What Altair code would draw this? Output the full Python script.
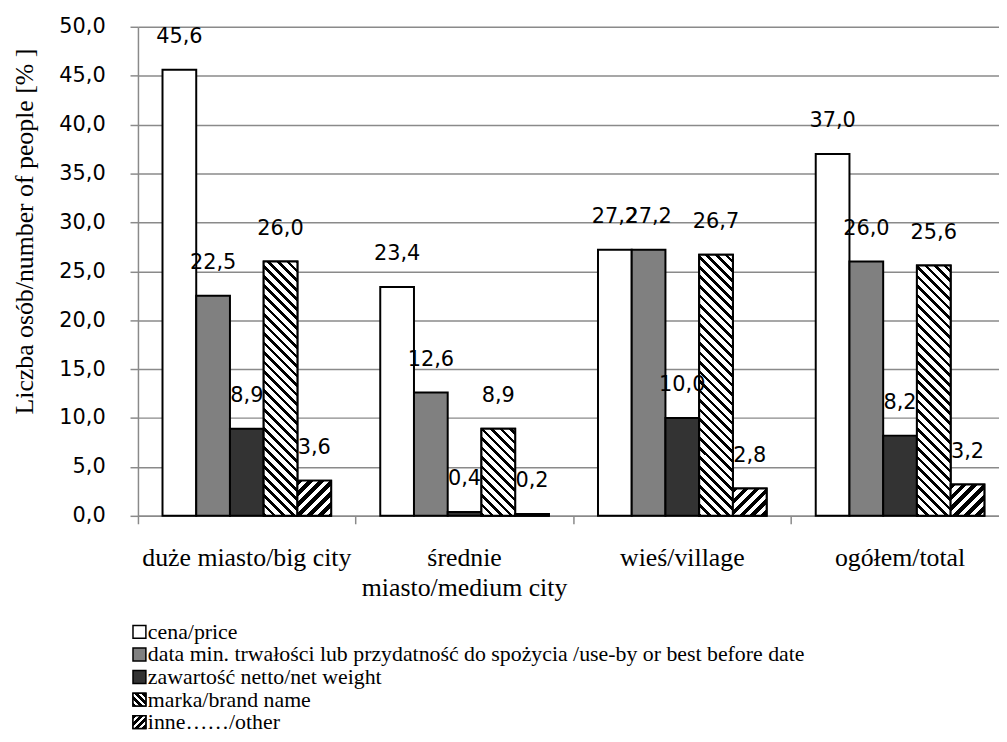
import altair as alt
import pandas as pd

# ---------------- data ----------------
categories = ["duże miasto/big city", "średnie miasto/medium city", "wieś/village", "ogółem/total"]
series = [
    "cena/price",
    "data min. trwałości lub przydatność do spożycia /use-by or best before date",
    "zawartość netto/net weight",
    "marka/brand name",
    "inne……/other",
]
price = [45.6, 23.4, 27.2, 37.0]
best_before = [22.5, 12.6, 27.2, 26.0]
net_weight = [8.9, 0.4, 10.0, 8.2]
brand = [26.0, 8.9, 26.7, 25.6]
other = [3.6, 0.2, 2.8, 3.2]
y_ticks = [0, 5, 10, 15, 20, 25, 30, 35, 40, 45, 50]
y_title = "Liczba osób/number of people [% ]"
wrapped_labels = {"średnie miasto/medium city": ["średnie", "miasto/medium city"]}

values_by_series = [price, best_before, net_weight, brand, other]
rows = []
for s, vals in zip(series, values_by_series):
    for c, v in zip(categories, vals):
        rows.append({"category": c, "series": s, "value": v})
df = pd.DataFrame(rows)
leg_df = pd.DataFrame({"series": series})

# ---------------- layout / style ----------------
PAGE_M = 8
PLOT_LEFT = 139
PLOT_TOP = 24
PLOT_H = 493
VIEW_W = 868
X_RANGE = 878
PAD_OUT = 0.728
BAND = X_RANGE / len(categories)
BAR_W = BAND / (len(series) + 2 * PAD_OUT)
PX_PER_UNIT = PLOT_H / 50.0
GRID = "#8a8a8a"
fills = ["white", "#808080", "#333333", "white", "white"]
LEG_FIRST = 634 - PLOT_TOP
LEG_LAST = 725 - PLOT_TOP


def hatch(w, h, period, frac, back):
    L = w + h
    k = L / (w * w + h * h)
    if back:
        x1, y1, x2, y2 = 0, 1, k * w, 1 - k * h
    else:
        x1, y1, x2, y2 = 0, 0, k * w, k * h
    tp = period / L
    stops = []
    i = 0
    while i * tp < 1:
        a = i * tp
        b = min(a + frac * tp, 1.0)
        c = min((i + 1) * tp, 1.0)
        for col, off in (("black", a), ("black", b), ("white", b), ("white", c)):
            stops.append(alt.GradientStop(color=col, offset=round(off, 5)))
        i += 1
    return alt.LinearGradient(gradient="linear", stops=stops,
                              x1=round(x1, 5), y1=round(y1, 5), x2=round(x2, 5), y2=round(y2, 5))


BRAND_STYLE = dict(period=9.6, frac=0.38, back=True)
OTHER_STYLE = dict(period=11.0, frac=0.5, back=False)

color_scale = alt.Scale(domain=series, range=fills)

x_label_expr = " : ".join(
    [f"datum.label == '{k}' ? {v}" for k, v in wrapped_labels.items()] + ["datum.label"]
)

x_enc = alt.X(
    "category:N",
    sort=categories,
    scale=alt.Scale(domain=categories, range=[0, X_RANGE], paddingInner=0, paddingOuter=0),
    axis=alt.Axis(
        title=None,
        bandPosition=0,
        labelAngle=0,
        labelAlign="center",
        labelBaseline="alphabetic",
        labelPadding=42,
        labelLineHeight=30,
        labelLimit=600,
        labelFont="Liberation Serif",
        labelFontSize=26,
        labelColor="black",
        labelExpr=x_label_expr,
        tickSize=8,
        tickColor=GRID,
        tickWidth=1.5,
        domainColor=GRID,
        domainWidth=1.5,
        grid=False,
    ),
)
xoff_enc = alt.XOffset("series:N", sort=series,
                       scale=alt.Scale(domain=series, paddingInner=0, paddingOuter=PAD_OUT))
y_enc = alt.Y(
    "value:Q",
    scale=alt.Scale(domain=[0, 50], nice=False, zero=True),
    axis=alt.Axis(
        values=y_ticks,
        labelExpr="replace(format(datum.value, '.1f'), '.', ',')",
        labelFont="DejaVu Sans",
        labelFontSize=21,
        labelColor="black",
        labelPadding=25,
        tickSize=8,
        tickColor=GRID,
        tickWidth=1.5,
        domainColor=GRID,
        domainWidth=1.5,
        gridColor=GRID,
        gridWidth=1.5,
        title=y_title,
        titleFont="Liberation Serif",
        titleFontSize=26,
        titleFontWeight="normal",
        titleColor="black",
        titleAngle=270,
        titleAlign="center",
        titleBaseline="middle",
        titleX=25 - PLOT_LEFT,
        titleY=230 - PLOT_TOP,
    ),
)

base = alt.Chart(df).mark_bar(stroke="black", strokeWidth=2).encode(
    x=x_enc, xOffset=xoff_enc, y=y_enc,
    fill=alt.Fill("series:N", scale=color_scale, legend=None),
)

overlays = []
for s, vals, style in ((series[3], brand, BRAND_STYLE), (series[4], other, OTHER_STYLE)):
    for c, v in zip(categories, vals):
        g = hatch(BAR_W, max(v * PX_PER_UNIT, 1.0), **style)
        overlays.append(
            alt.Chart(df)
            .transform_filter((alt.datum.series == s) & (alt.datum.category == c))
            .mark_bar(fill=g, stroke="black", strokeWidth=2)
            .encode(x=x_enc, xOffset=xoff_enc, y=y_enc)
        )

labels = (
    alt.Chart(df)
    .transform_calculate(label="replace(format(datum.value, '.1f'), '.', ',')")
    .mark_text(font="DejaVu Sans", fontSize=21, color="black", baseline="alphabetic",
               align="center", dy=-27)
    .encode(x=x_enc, xOffset=xoff_enc, y=y_enc, text="label:N")
)

main = alt.layer(base, *overlays, labels)

# ---------------- legend (manual) ----------------
leg_y = alt.Y("series:N", sort=series,
              scale=alt.Scale(type="point", domain=series, range=[LEG_FIRST, LEG_LAST], padding=0),
              axis=None)
SQ = 169
leg_sq = alt.Chart(leg_df).mark_square(size=SQ, stroke="black", strokeWidth=1.5, opacity=1).encode(
    x=alt.value(1.5), y=leg_y, fill=alt.Fill("series:N", scale=color_scale, legend=None)
)
leg_hatch = []
for s, style in ((series[3], dict(period=7.0, frac=0.5, back=True)),
                 (series[4], dict(period=7.0, frac=0.5, back=False))):
    leg_hatch.append(
        alt.Chart(leg_df)
        .transform_filter(alt.datum.series == s)
        .mark_square(size=SQ, fill=hatch(13, 13, **style), stroke="black", strokeWidth=1.5, opacity=1)
        .encode(x=alt.value(1.5), y=leg_y)
    )
leg_txt = alt.Chart(leg_df).mark_text(
    align="left", baseline="middle", font="Liberation Serif", fontSize=22, color="black"
).encode(x=alt.value(10), y=leg_y, text="series:N")

legend = alt.layer(leg_sq, *leg_hatch, leg_txt)

chart = (
    alt.layer(main, legend)
    .resolve_scale(y="independent")
    .properties(
        width=VIEW_W,
        height=PLOT_H,
        autosize=alt.AutoSizeParams(type="none"),
        padding={"left": PLOT_LEFT - PAGE_M, "top": PLOT_TOP - PAGE_M, "right": 0, "bottom": 217},
        background="white",
    )
    .configure_view(stroke=None)
)

chart.save("out.html", embed_options={"renderer": "svg", "actions": False})
